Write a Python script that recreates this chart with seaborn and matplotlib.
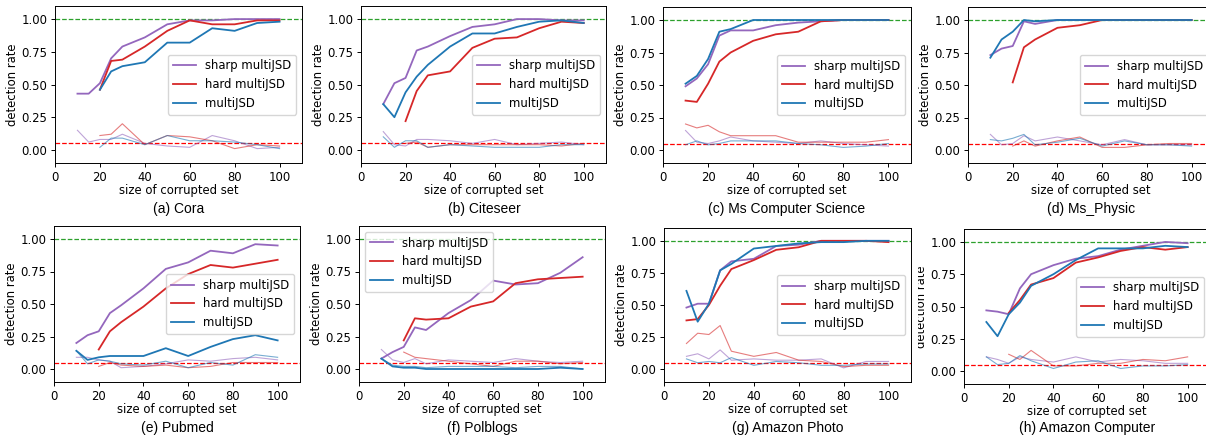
import matplotlib
matplotlib.use("Agg")
import matplotlib.pyplot as plt
import seaborn as sns
import numpy as np
from matplotlib.transforms import Bbox, TransformedBbox

# ---------------- data ----------------
X = [10, 15, 20, 25, 30, 40, 50, 60, 70, 80, 90, 100]
X20 = [20, 25, 30, 40, 50, 60, 70, 80, 90, 100]

# (a) Cora
CORA_SHARP = [0.43, 0.43, 0.51, 0.70, 0.79, 0.86, 0.96, 0.99, 0.99, 1.00, 1.00, 1.00]
CORA_HARD = [0.46, 0.68, 0.69, 0.79, 0.91, 0.99, 0.96, 0.96, 0.99, 0.99]
CORA_MJSD = [0.46, 0.60, 0.64, 0.67, 0.82, 0.82, 0.93, 0.91, 0.97, 0.98]
CORA_SHARP_FP = [0.15, 0.06, 0.08, 0.08, 0.12, 0.05, 0.03, 0.02, 0.11, 0.07, 0.01, 0.02]
CORA_HARD_FP = [0.11, 0.12, 0.20, 0.04, 0.11, 0.10, 0.07, 0.01, 0.04, 0.03]
CORA_MJSD_FP = [0.02, 0.09, 0.09, 0.04, 0.11, 0.07, 0.07, 0.06, 0.04, 0.01]

# (b) Citeseer
CITE_SHARP = [0.35, 0.51, 0.55, 0.76, 0.79, 0.87, 0.94, 0.96, 1.00, 1.00, 0.99, 0.99]
CITE_HARD = [0.22, 0.45, 0.57, 0.60, 0.78, 0.85, 0.86, 0.93, 0.98, 0.97]
CITE_MJSD = [0.35, 0.25, 0.44, 0.56, 0.65, 0.79, 0.89, 0.89, 0.94, 0.98, 0.99, 0.97]
CITE_SHARP_FP = [0.14, 0.04, 0.03, 0.08, 0.08, 0.07, 0.05, 0.08, 0.04, 0.05, 0.06, 0.04]
CITE_HARD_FP = [0.05, 0.06, 0.02, 0.04, 0.04, 0.04, 0.04, 0.04, 0.03, 0.05]
CITE_MJSD_FP = [0.10, 0.02, 0.07, 0.07, 0.02, 0.04, 0.03, 0.02, 0.02, 0.02, 0.04, 0.04]

# (c) Ms Computer Science
MSCS_SHARP = [0.49, 0.55, 0.66, 0.88, 0.92, 0.92, 0.96, 0.98, 0.99, 1.00, 1.00, 1.00]
MSCS_HARD = [0.38, 0.37, 0.51, 0.68, 0.75, 0.84, 0.89, 0.91, 0.99, 1.00, 1.00, 1.00]
MSCS_MJSD = [0.51, 0.57, 0.70, 0.91, 0.93, 1.00, 1.00, 1.00, 1.00, 1.00, 1.00, 1.00]
MSCS_SHARP_FP = [0.15, 0.06, 0.05, 0.07, 0.10, 0.07, 0.06, 0.05, 0.07, 0.05, 0.04, 0.03]
MSCS_HARD_FP = [0.20, 0.17, 0.19, 0.14, 0.11, 0.11, 0.11, 0.06, 0.06, 0.06, 0.06, 0.08]
MSCS_MJSD_FP = [0.04, 0.07, 0.04, 0.05, 0.07, 0.07, 0.07, 0.05, 0.04, 0.02, 0.03, 0.05]

# (d) Ms_Physic
MSPH_SHARP = [0.73, 0.78, 0.80, 0.99, 0.97, 1.00, 1.00, 1.00, 1.00, 1.00, 1.00, 1.00]
MSPH_HARD = [0.52, 0.79, 0.85, 0.94, 0.96, 1.00, 1.00, 1.00, 1.00, 1.00]
MSPH_MJSD = [0.71, 0.85, 0.91, 1.00, 0.99, 1.00, 1.00, 1.00, 1.00, 1.00, 1.00, 1.00]
MSPH_SHARP_FP = [0.12, 0.04, 0.05, 0.11, 0.07, 0.10, 0.07, 0.04, 0.08, 0.04, 0.04, 0.04]
MSPH_HARD_FP = [0.03, 0.07, 0.03, 0.07, 0.10, 0.02, 0.02, 0.04, 0.05, 0.05]
MSPH_MJSD_FP = [0.08, 0.07, 0.09, 0.12, 0.04, 0.06, 0.09, 0.03, 0.07, 0.04, 0.04, 0.03]

# (e) Pubmed
PUB_SHARP = [0.20, 0.26, 0.29, 0.43, 0.49, 0.62, 0.77, 0.82, 0.91, 0.89, 0.96, 0.95]
PUB_HARD = [0.15, 0.29, 0.36, 0.48, 0.62, 0.73, 0.80, 0.78, 0.81, 0.84]
PUB_MJSD = [0.14, 0.07, 0.09, 0.10, 0.10, 0.10, 0.16, 0.10, 0.17, 0.23, 0.26, 0.22]
PUB_SHARP_FP = [0.09, 0.09, 0.07, 0.06, 0.01, 0.02, 0.04, 0.07, 0.06, 0.08, 0.09, 0.07]
PUB_HARD_FP = [0.02, 0.05, 0.03, 0.02, 0.03, 0.01, 0.02, 0.05, 0.05, 0.05]
PUB_MJSD_FP = [0.14, 0.04, 0.07, 0.06, 0.04, 0.03, 0.06, 0.01, 0.05, 0.03, 0.11, 0.09]

# (f) Polblogs
POL_SHARP = [0.08, 0.13, 0.17, 0.32, 0.30, 0.43, 0.53, 0.68, 0.65, 0.66, 0.74, 0.86]
POL_HARD = [0.22, 0.39, 0.38, 0.39, 0.48, 0.52, 0.66, 0.69, 0.70, 0.71]
POL_MJSD = [0.08, 0.02, 0.01, 0.01, 0.00, 0.00, 0.00, 0.00, 0.00, 0.00, 0.01, 0.00]
POL_SHARP_FP = [0.15, 0.07, 0.05, 0.08, 0.04, 0.07, 0.06, 0.05, 0.08, 0.06, 0.05, 0.06]
POL_HARD_FP = [0.13, 0.09, 0.08, 0.06, 0.04, 0.02, 0.06, 0.06, 0.04, 0.05]
POL_MJSD_FP = [0.08, 0.03, 0.02, 0.02, 0.01, 0.02, 0.02, 0.02, 0.01, 0.02, 0.02, 0.00]

# (g) Amazon Photo
PHO_SHARP = [0.48, 0.51, 0.51, 0.77, 0.84, 0.86, 0.96, 0.97, 1.00, 1.00, 1.00, 1.00]
PHO_HARD = [0.38, 0.39, 0.50, 0.65, 0.78, 0.85, 0.93, 0.95, 1.00, 1.00, 1.00, 0.99]
PHO_MJSD = [0.61, 0.37, 0.51, 0.77, 0.82, 0.94, 0.96, 0.98, 0.99, 0.99, 1.00, 1.00]
PHO_SHARP_FP = [0.10, 0.12, 0.08, 0.15, 0.07, 0.08, 0.07, 0.07, 0.08, 0.01, 0.06, 0.06]
PHO_HARD_FP = [0.20, 0.28, 0.27, 0.34, 0.14, 0.10, 0.13, 0.07, 0.06, 0.02, 0.03, 0.03]
PHO_MJSD_FP = [0.08, 0.05, 0.06, 0.05, 0.09, 0.03, 0.06, 0.05, 0.03, 0.03, 0.04, 0.04]

# (h) Amazon Computer
COM_SHARP = [0.47, 0.46, 0.44, 0.64, 0.75, 0.82, 0.87, 0.89, 0.94, 0.97, 1.00, 0.99]
COM_HARD = [0.45, 0.55, 0.67, 0.72, 0.84, 0.88, 0.93, 0.96, 0.94, 0.96]
COM_MJSD = [0.38, 0.27, 0.44, 0.53, 0.66, 0.75, 0.86, 0.95, 0.95, 0.95, 0.97, 0.96]
COM_SHARP_FP = [0.11, 0.09, 0.06, 0.11, 0.09, 0.07, 0.11, 0.07, 0.09, 0.08, 0.06, 0.06]
COM_HARD_FP = [0.13, 0.09, 0.16, 0.04, 0.04, 0.06, 0.06, 0.09, 0.08, 0.11]
COM_MJSD_FP = [0.11, 0.05, 0.06, 0.12, 0.08, 0.02, 0.07, 0.08, 0.02, 0.04, 0.04, 0.05]

CAPTIONS = ["(a) Cora", "(b) Citeseer", "(c) Ms Computer Science", "(d) Ms_Physic",
            "(e) Pubmed", "(f) Polblogs", "(g) Amazon Photo", "(h) Amazon Computer"]
LABELS = ["sharp multiJSD", "hard multiJSD", "multiJSD"]
XTICKS = [0, 20, 40, 60, 80, 100]
YTICKS = [0.00, 0.25, 0.50, 0.75, 1.00]

panels = [
    (CORA_SHARP, CORA_HARD, CORA_MJSD, CORA_SHARP_FP, CORA_HARD_FP, CORA_MJSD_FP),
    (CITE_SHARP, CITE_HARD, CITE_MJSD, CITE_SHARP_FP, CITE_HARD_FP, CITE_MJSD_FP),
    (MSCS_SHARP, MSCS_HARD, MSCS_MJSD, MSCS_SHARP_FP, MSCS_HARD_FP, MSCS_MJSD_FP),
    (MSPH_SHARP, MSPH_HARD, MSPH_MJSD, MSPH_SHARP_FP, MSPH_HARD_FP, MSPH_MJSD_FP),
    (PUB_SHARP, PUB_HARD, PUB_MJSD, PUB_SHARP_FP, PUB_HARD_FP, PUB_MJSD_FP),
    (POL_SHARP, POL_HARD, POL_MJSD, POL_SHARP_FP, POL_HARD_FP, POL_MJSD_FP),
    (PHO_SHARP, PHO_HARD, PHO_MJSD, PHO_SHARP_FP, PHO_HARD_FP, PHO_MJSD_FP),
    (COM_SHARP, COM_HARD, COM_MJSD, COM_SHARP_FP, COM_HARD_FP, COM_MJSD_FP),
]

# ---------------- style ----------------
plt.rcParams['font.family'] = ['DejaVu Sans']
FS = 8.4
plt.rcParams.update({
    'font.size': FS,
    'axes.linewidth': 0.7,
    'xtick.major.width': 0.7,
    'ytick.major.width': 0.7,
    'xtick.major.size': 3,
    'ytick.major.size': 3,
    'xtick.major.pad': 2.5,
    'ytick.major.pad': 2.5,
    'xtick.labelsize': FS,
    'ytick.labelsize': FS,
})

COLORS = ['#9467bd', '#d62728', '#1f77b4']

W, H = 1206, 438
fig = plt.figure(figsize=(W / 100, H / 100), dpi=100)

# axes rectangles in pixels: left, top, right, bottom
RECTS = [
    (55, 6, 302, 163), (361, 6, 606, 163), (663, 7, 911, 163), (968, 7, 1214, 163),
    (54, 226, 300, 382), (359, 226, 605, 382), (664, 228, 911, 382), (964, 229, 1210, 384),
]
LEG_LOC = ['center right'] * 5 + ['upper left'] + ['center right'] * 2


def xs_for(vals):
    return X if len(vals) == len(X) else X20


for i, (rect, data) in enumerate(zip(RECTS, panels)):
    l, t, r, b = rect
    ax = fig.add_axes([l / W, 1 - b / H, (r - l) / W, (b - t) / H])
    handles = []
    for k in range(3):
        vals = data[k]
        sns.lineplot(x=xs_for(vals), y=vals, ax=ax, color=COLORS[k], lw=1.3,
                     legend=False, zorder=3)
        handles.append(ax.lines[-1])
    for k in range(3):
        vals = data[3 + k]
        sns.lineplot(x=xs_for(vals), y=vals, ax=ax, color=COLORS[k], lw=0.8,
                     alpha=0.6, legend=False, zorder=2)
    ax.axhline(1.0, color='#2ca02c', ls='--', lw=0.9, zorder=1)
    ax.axhline(0.05, color='red', ls='--', lw=0.9, zorder=1)
    ax.set_xlim(0, 110)
    ax.set_ylim(-0.1, 1.1)
    ax.set_xticks(XTICKS)
    ax.set_yticks(YTICKS)
    ax.set_yticklabels([f"{v:.2f}" for v in YTICKS])
    ax.set_xlabel("size of corrupted set", fontsize=FS, labelpad=0)
    ax.set_ylabel("detection rate", fontsize=FS, labelpad=2)
    leg = ax.legend(handles, LABELS, loc=LEG_LOC[i], fontsize=FS)
    for h in leg.get_lines():
        h.set_linewidth(1.3)
    cy = 209 if i < 4 else 428
    fig.text(((l + l + 247) / 2) / W, 1 - cy / H, CAPTIONS[i], ha='center', va='center',
             fontsize=10, family=['Liberation Sans', 'DejaVu Sans'])
    if i == 7:
        lab = ax.yaxis.label
        lab.set_clip_box(TransformedBbox(Bbox([[918 / W, 0], [1, 1]]), fig.transFigure))
        lab.set_clip_on(True)

fig.savefig("out.png", dpi=100)
